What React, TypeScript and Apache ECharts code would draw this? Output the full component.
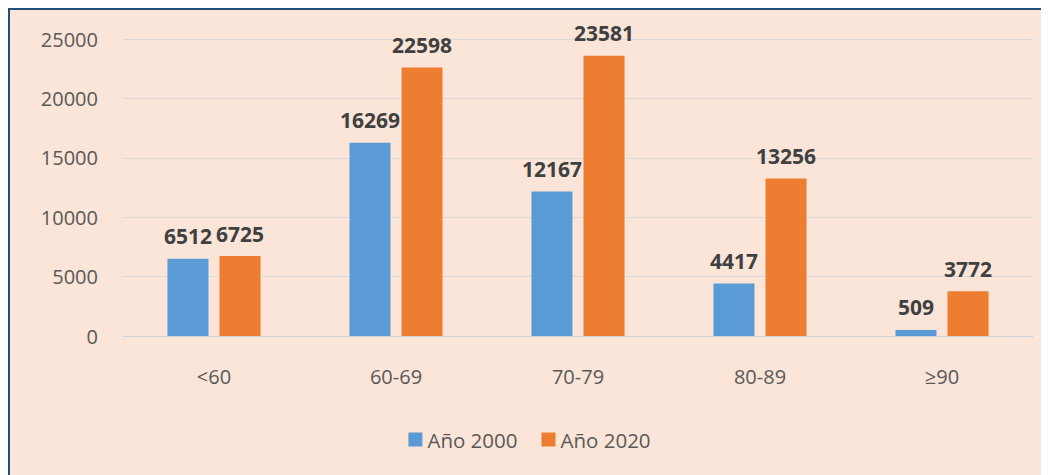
import React, { useEffect, useRef } from "react";
import * as echarts from "echarts";

const categories = ["<60", "60-69", "70-79", "80-89", "≥90"];
const serie2000 = [6512, 16269, 12167, 4417, 509];
const serie2020 = [6725, 22598, 23581, 13256, 3772];
const seriesNames = ["Año 2000", "Año 2020"];

export default function App() {
  const ref = useRef<HTMLDivElement>(null);
  useEffect(() => {
    if (!ref.current) return;
    const chart = echarts.init(ref.current, undefined, { renderer: "svg" });
    const font = "'Open Sans', 'Noto Sans', sans-serif";
    const label = {
      show: true,
      position: "top",
      distance: 12,
      fontSize: 21,
      fontWeight: "bold",
      color: "#404040",
      fontFamily: font,
    };
    chart.setOption({
      animation: false,
      backgroundColor: "#FAE5D8",
      grid: { left: 113, right: 16, top: 29, bottom: 139, containLabel: false },
      legend: {
        bottom: 20,
        left: "center",
        itemWidth: 14,
        itemHeight: 14,
        itemGap: 24,
        icon: "rect",
        textStyle: { fontSize: 20.5, color: "#595959", fontFamily: font },
        data: seriesNames,
      },
      xAxis: {
        type: "category",
        data: categories,
        axisTick: { show: false },
        axisLine: { show: true, lineStyle: { color: "#C8D4DE", width: 1 } },
        axisLabel: { fontSize: 20, color: "#595959", margin: 30, fontFamily: font },
      },
      yAxis: {
        type: "value",
        min: 0,
        max: 25000,
        interval: 5000,
        axisLabel: {
          fontSize: 20,
          color: "#595959",
          margin: 25,
          fontFamily: font,
          formatter: (v: number) => String(v),
        },
        splitLine: { lineStyle: { color: "#D9D9D9", width: 1 } },
        axisLine: { show: false },
        axisTick: { show: false },
      },
      series: [
        {
          name: seriesNames[0],
          type: "bar",
          data: serie2000,
          barWidth: 41,
          barGap: "27%",
          itemStyle: { color: "#5B9BD5" },
          label,
        },
        {
          name: seriesNames[1],
          type: "bar",
          data: serie2020,
          barWidth: 41,
          barGap: "27%",
          itemStyle: { color: "#ED7D31" },
          label,
        },
      ],
    });
    return () => chart.dispose();
  }, []);
  return (
    <div
      style={{
        width: 1041,
        height: 467,
        boxSizing: "border-box",
        borderTop: "2px solid #1F4E79",
        borderLeft: "2px solid #1F4E79",
        background: "#FAE5D8",
      }}
    >
      <div ref={ref} style={{ width: 1039, height: 465 }} />
    </div>
  );
}
